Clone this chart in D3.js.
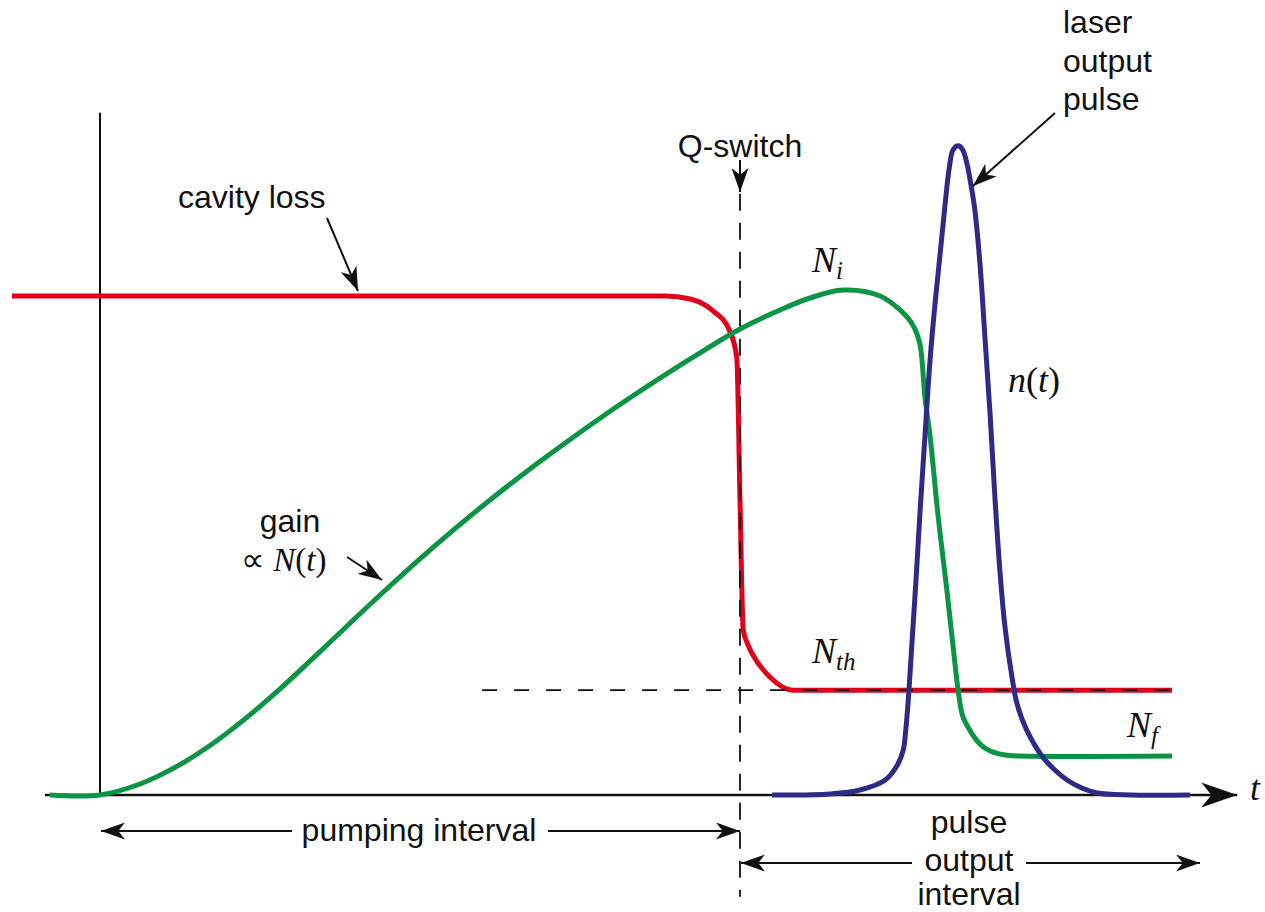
<html>
<head>
<script src="https://d3js.org/d3.v7.min.js"></script>
<style>
  body { margin: 0; background: #fff; }
  .lbl { font-family: "Liberation Sans", Arial, sans-serif; font-size: 32px; fill: #111; }
  .math { font-family: "Liberation Serif", "Times New Roman", serif; font-size: 36px; fill: #111; }
</style>
</head>
<body>
<svg id="plot"></svg>

<script>

// time axis: Q-switch fires at t = 100, levels relative to cavity loss = 100
var qSwitchT = 100;
var lossLevel = 100;
var thresholdLevel = 21;
var finalLevel = 7.8;

// cavity loss (red)
var lossT = [-13.75, 88.3, 92.2, 95.8, 98.4, 99.5, 100, 100.5, 101.25, 102.0, 104.7, 108.3, 167.5];
var lossV = [100, 100, 99.4, 97.0, 93.0, 87.6, 59.1, 33.1, 30.1, 28.1, 23.6, 21.0, 21.0];

// gain ~ N(t) (green)
var gainT = [-7.8, 0, 6.25, 11.72, 17.19, 22.66, 28.13, 33.59, 39.06, 44.53,
             50.0, 55.47, 60.94, 66.41, 71.88, 77.34, 82.81, 88.28, 93.75, 100.0,
             106.25, 110.94, 116.1, 121.9, 125.0, 127.0, 128.1, 128.9, 129.7, 130.9,
             132.3, 133.3, 134.1, 134.8, 135.9, 137.5, 139.1, 141.4, 143.75, 167.5];
var gainV = [0, 0, 2.2, 5.53, 9.92, 15.25, 21.28, 27.78, 34.43, 40.98,
             47.33, 53.37, 59.12, 64.59, 69.78, 74.8, 79.6, 84.2, 88.6, 93.4,
             97.2, 99.6, 101.2, 100.0, 97.2, 94.2, 90.4, 79.6, 71.9, 56.5,
             41.3, 29.7, 20.8, 15.8, 13.0, 10.2, 8.8, 8.0, 7.8, 7.8];

// photon number n(t) (blue)
var pulseT = [105.0, 114.1, 118.75, 122.7, 124.5, 125.5, 125.9, 126.4, 126.9, 127.5,
              128.1, 128.9, 129.7, 130.5, 131.25, 132.0, 132.7, 133.3, 134.1, 134.8,
              135.5, 136.1, 136.7, 137.5, 138.3, 139.1, 139.8, 140.6, 141.4, 142.5,
              143.3, 144.8, 147.3, 149.2, 151.1, 153.4, 155.8, 160.9, 170.3];
var pulseV = [0, 0.2, 1.0, 3.0, 5.8, 9.0, 13.0, 21.0, 31.1, 43.1,
              56.1, 71.9, 87.2, 98.8, 108.2, 117.8, 125.7, 129.3, 130.1, 129.3,
              126.3, 122.2, 117.2, 106.4, 91.2, 75.8, 60.3, 45.1, 33.7, 23.6,
              18.2, 13.0, 7.6, 5.0, 3.0, 1.4, 0.4, 0, 0];

// axis extents
var axisT = [-8.6, 177.7];
var axisV = [0, 136.7];
var threshT = [59.7, 168.75];
var qSwitchV = [-20.4, 126.3];

var width = 1265;
var height = 912;

var svg = d3.select("#plot")
    .attr("width", width)
    .attr("height", height);

//scales
var xScale = d3.scaleLinear().domain([0, 100]).range([100, 740]);
var yScale = d3.scaleLinear().domain([0, 100]).range([795, 296]);

var zip = function(ts, vs) {
    return ts.map(function(t, i) { return [t, vs[i]]; });
}

var line = d3.line()
    .x(function(d) { return xScale(d[0]); })
    .y(function(d) { return yScale(d[1]); })
    .curve(d3.curveMonotoneX);

var smooth = d3.line()
    .x(function(d) { return xScale(d[0]); })
    .y(function(d) { return yScale(d[1]); })
    .curve(d3.curveCatmullRom.alpha(0.5));

//arrowheads
var defs = svg.append("defs");
var addHead = function(id, len, half) {
    defs.append("marker")
        .attr("id", id)
        .attr("markerUnits", "userSpaceOnUse")
        .attr("viewBox", (-len) + " " + (-half) + " " + (len + 1) + " " + (2 * half))
        .attr("refX", 0).attr("refY", 0)
        .attr("markerWidth", len + 1).attr("markerHeight", 2 * half)
        .attr("orient", "auto")
        .append("path")
        .attr("d", "M0,0 L" + (-len) + "," + (-half) + " L" + (-len * 0.72) + ",0 L" + (-len) + "," + half + " Z")
        .attr("fill", "#111");
}
addHead("head", 24, 8.5);
addHead("bighead", 36, 12.5);

var arrow = function(x1, y1, x2, y2) {
    svg.append("line")
        .attr("x1", x1).attr("y1", y1)
        .attr("x2", x2).attr("y2", y2)
        .attr("stroke", "#111")
        .attr("stroke-width", 2)
        .attr("marker-end", "url(#head)");
}

//axes
svg.append("line")
    .attr("x1", xScale(0)).attr("x2", xScale(0))
    .attr("y1", yScale(axisV[0])).attr("y2", yScale(axisV[1]))
    .attr("stroke", "#111").attr("stroke-width", 2);

svg.append("line")
    .attr("x1", xScale(axisT[0])).attr("x2", xScale(axisT[1]))
    .attr("y1", yScale(0)).attr("y2", yScale(0))
    .attr("stroke", "#111").attr("stroke-width", 2.6)
    .attr("marker-end", "url(#bighead)");

//cavity loss
svg.append("path")
    .attr("d", line(zip(lossT, lossV)))
    .attr("fill", "none")
    .attr("stroke", "#e3001b")
    .attr("stroke-width", 5);

//threshold and Q-switch dashed lines
svg.append("line")
    .attr("x1", xScale(threshT[0])).attr("x2", xScale(threshT[1]))
    .attr("y1", yScale(thresholdLevel)).attr("y2", yScale(thresholdLevel))
    .attr("stroke", "#111").attr("stroke-width", 1.8)
    .attr("stroke-dasharray", "15,17");

svg.append("line")
    .attr("x1", xScale(qSwitchT)).attr("x2", xScale(qSwitchT))
    .attr("y1", yScale(qSwitchV[1])).attr("y2", yScale(qSwitchV[0]))
    .attr("stroke", "#111").attr("stroke-width", 1.8)
    .attr("stroke-dasharray", "17,12");

//gain
svg.append("path")
    .attr("d", smooth(zip(gainT, gainV)))
    .attr("fill", "none")
    .attr("stroke", "#0b9444")
    .attr("stroke-width", 5);

//pulse
svg.append("path")
    .attr("d", smooth(zip(pulseT, pulseV)))
    .attr("fill", "none")
    .attr("stroke", "#2e2b86")
    .attr("stroke-width", 5);

//labels
var text = function(x, y, str, anchor) {
    svg.append("text")
        .attr("class", "lbl")
        .attr("x", x).attr("y", y)
        .attr("text-anchor", anchor || "start")
        .text(str);
}

var math = function(x, y, main, sub) {
    var t = svg.append("text")
        .attr("class", "math")
        .attr("x", x).attr("y", y);
    t.append("tspan").style("font-style", "italic").text(main);
    if (sub) {
        t.append("tspan")
            .style("font-style", "italic")
            .style("font-size", "25px")
            .attr("dy", 7)
            .text(sub);
    }
}

text(178, 208, "cavity loss");
arrow(327, 218, 358, 291);

text(740, 157, "Q-switch", "middle");
arrow(740, 160, 740, 192);

text(1063, 33, "laser");
text(1063, 72, "output");
text(1063, 110, "pulse");
arrow(1055, 113, 973, 186);

text(290, 532, "gain", "middle");
var prop = svg.append("text").attr("class", "math")
    .attr("x", 241).attr("y", 571)
    .style("font-size", "33px");
prop.append("tspan").text("\u221D ");
prop.append("tspan").style("font-style", "italic").text("N");
prop.append("tspan").text("(");
prop.append("tspan").style("font-style", "italic").text("t");
prop.append("tspan").text(")");
arrow(347, 557, 382, 580);

math(812, 272, "N", "i");
math(812, 663, "N", "th");
math(1127, 737, "N", "f");

var nt = svg.append("text").attr("class", "math").attr("x", 1008).attr("y", 392);
nt.append("tspan").style("font-style", "italic").text("n");
nt.append("tspan").text("(");
nt.append("tspan").style("font-style", "italic").text("t");
nt.append("tspan").text(")");

math(1250, 800, "t");

//interval arrows
text(419, 841, "pumping interval", "middle");
arrow(292, 831, 101, 831);
arrow(548, 831, 740, 831);

text(969, 833, "pulse", "middle");
text(969, 871, "output", "middle");
text(969, 905, "interval", "middle");
arrow(912, 863, 741, 863);
arrow(1026, 863, 1200, 863);

</script>
</body>
</html>
